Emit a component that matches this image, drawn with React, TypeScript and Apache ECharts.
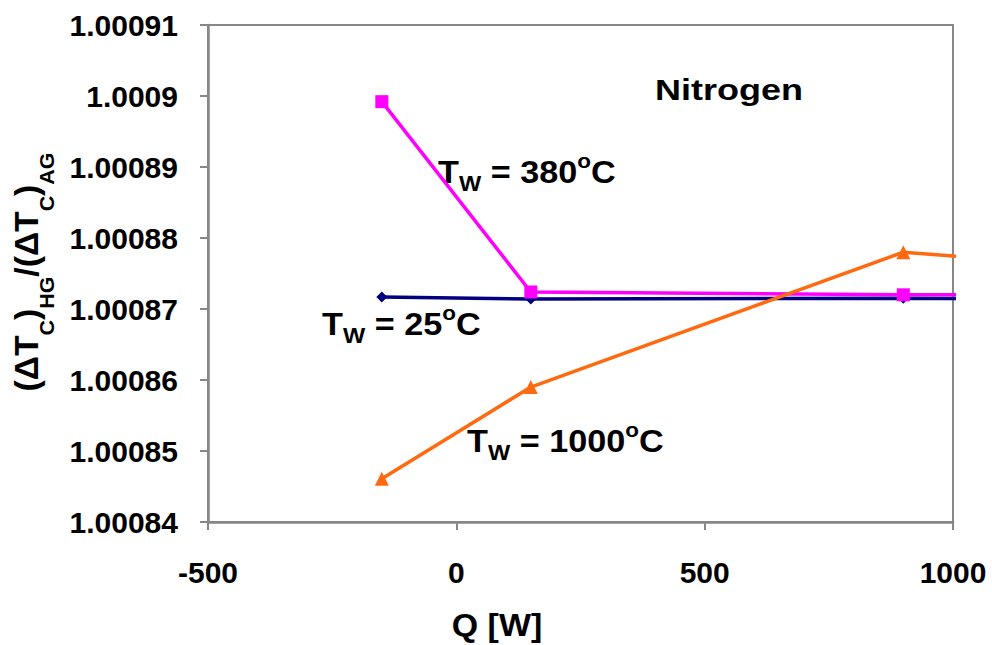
import React, { useEffect, useRef } from "react";
import * as echarts from "echarts";

const xTicks = [-500, 0, 500, 1000];
const yTickLabels = ["1.00084", "1.00085", "1.00086", "1.00087", "1.00088", "1.00089", "1.0009", "1.00091"];

const qValues25 = [-150, 150, 900, 1500];
const ratio25 = [1.0008717, 1.0008714, 1.0008715, 1.0008714];

const qValues380 = [-150, 150, 900, 1500];
const ratio380 = [1.0008992, 1.0008724, 1.000872, 1.000872];

const qValues1000 = [-150, 150, 900, 1500];
const ratio1000 = [1.0008461, 1.000859, 1.000878, 1.0008747];

const FONT = "'Liberation Sans', Arial, Helvetica, sans-serif";

const toPairs = (xs: number[], ys: number[]) => xs.map((x, i) => [x, ys[i]]);

export default function App() {
  const ref = useRef<HTMLDivElement>(null);
  useEffect(() => {
    document.body.style.margin = "0";
    const chart = echarts.init(ref.current!, null, { renderer: "svg" });
    const gray = "#878787";
    const tRich = {
      m: { fontSize: 32, lineHeight: 44, fontWeight: "bold", fontFamily: FONT, fill: "#000" },
      s: { fontSize: 22, lineHeight: 21, fontWeight: "bold", fontFamily: FONT, fill: "#000", verticalAlign: "bottom" },
      o: { fontSize: 21, lineHeight: 31, fontWeight: "bold", fontFamily: FONT, fill: "#000", verticalAlign: "top" },
    };
    const tLabel = (num: string, x: number, y: number) => ({
      type: "text",
      x,
      y,
      scaleX: 1.07,
      silent: true,
      style: {
        text: `{m|T}{s|W}{m| = ${num}}{o|o}{m|C}`,
        rich: tRich,
        align: "left",
        verticalAlign: "middle",
        fontFamily: FONT,
        fontWeight: "bold",
        fill: "#000",
      },
    });
    chart.setOption({
      animation: false,
      backgroundColor: "#fff",
      grid: {
        left: 208,
        right: 39,
        top: 25,
        bottom: 123,
        show: true,
        borderColor: gray,
        borderWidth: 2,
        backgroundColor: "#fff",
      },
      xAxis: {
        type: "value",
        min: xTicks[0],
        max: xTicks[xTicks.length - 1],
        interval: 500,
        axisLine: { show: true, onZero: false, lineStyle: { color: gray, width: 2.5 } },
        axisTick: { show: true, inside: false, length: 8, lineStyle: { color: gray, width: 2 } },
        splitLine: { show: false },
        axisLabel: {
          margin: 35,
          fontSize: 30,
          fontWeight: "bold",
          fontFamily: FONT,
          color: "#000",
          formatter: (v: number) => String(v),
        },
      },
      yAxis: {
        type: "value",
        min: parseFloat(yTickLabels[0]),
        max: parseFloat(yTickLabels[yTickLabels.length - 1]),
        interval: 0.00001,
        axisLine: { show: true, onZero: false, lineStyle: { color: gray, width: 2.5 } },
        axisTick: { show: true, inside: false, length: 8, lineStyle: { color: gray, width: 2 } },
        splitLine: { show: false },
        axisLabel: {
          margin: 30,
          fontSize: 30,
          fontWeight: "bold",
          fontFamily: FONT,
          color: "#000",
          formatter: (v: number) => {
            const s = parseFloat(v.toFixed(5)).toString();
            const found = yTickLabels.find((t) => parseFloat(t) === parseFloat(s));
            return found ?? s;
          },
        },
      },
      series: [
        {
          name: "TW = 25oC",
          type: "line",
          data: toPairs(qValues25, ratio25),
          clip: true,
          symbol: "diamond",
          symbolSize: 11,
          itemStyle: { color: "#000080" },
          lineStyle: { color: "#000080", width: 3.5 },
          z: 3,
        },
        {
          name: "TW = 380oC",
          type: "line",
          data: toPairs(qValues380, ratio380),
          clip: true,
          symbol: "rect",
          symbolSize: 13,
          itemStyle: { color: "#FF00FF" },
          lineStyle: { color: "#FF00FF", width: 3.5 },
          z: 4,
        },
        {
          name: "TW = 1000oC",
          type: "line",
          data: toPairs(qValues1000, ratio1000),
          clip: true,
          symbol: "triangle",
          symbolSize: 14,
          itemStyle: { color: "#FF6A10" },
          lineStyle: { color: "#FF6A10", width: 3.5 },
          z: 5,
        },
      ],
      graphic: [
        {
          type: "text",
          x: 655,
          y: 90,
          scaleX: 1.2,
          silent: true,
          style: {
            text: "Nitrogen",
            fontSize: 30,
            fontWeight: "bold",
            fontFamily: FONT,
            fill: "#000",
            align: "left",
            verticalAlign: "middle",
          },
        },
        tLabel("380", 438, 172),
        tLabel("25", 322, 324),
        tLabel("1000", 467, 441),
        {
          type: "text",
          x: 497,
          y: 625,
          scaleX: 1.06,
          silent: true,
          style: {
            text: "Q [W]",
            fontSize: 32,
            fontWeight: "bold",
            fontFamily: FONT,
            fill: "#000",
            align: "center",
            verticalAlign: "middle",
          },
        },
        {
          type: "text",
          x: 27,
          y: 272,
          rotation: Math.PI / 2,
          scaleX: 1.02,
          silent: true,
          style: {
            text: "{m|(ΔT}{s|C}{m|)}{s|HG}{m|/(ΔT}{s|C}{m|)}{s|AG}",
            rich: {
              m: { fontSize: 33, lineHeight: 60, fontWeight: "bold", fontFamily: FONT, fill: "#000" },
              s: { fontSize: 21, lineHeight: 22, fontWeight: "bold", fontFamily: FONT, fill: "#000", verticalAlign: "bottom" },
            },
            align: "center",
            verticalAlign: "middle",
            fontFamily: FONT,
            fontWeight: "bold",
            fill: "#000",
          },
        },
      ],
    });
    return () => chart.dispose();
  }, []);
  return <div ref={ref} style={{ width: 992, height: 645 }} />;
}
